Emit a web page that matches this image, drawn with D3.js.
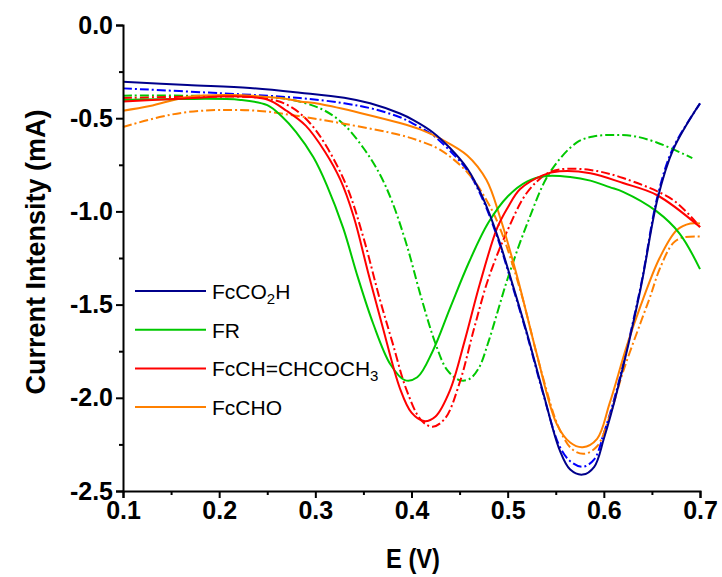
<!DOCTYPE html>
<html>
<head>
<meta charset="utf-8">
<script src="https://cdn.jsdelivr.net/npm/d3@7"></script>
<style>
  body { margin: 0; background: #fff; }
  svg text { font-family: "Liberation Sans", Arial, sans-serif; }
</style>
</head>
<body>
<svg width="722" height="577"></svg>
<script>
// values as [E (V), I (mA)]
const fcco2hSolid = [[0.100,-0.304],[0.167,-0.322],[0.232,-0.338],[0.284,-0.363],[0.330,-0.390],[0.357,-0.420],[0.388,-0.475],[0.402,-0.510],[0.422,-0.575],[0.440,-0.660],[0.458,-0.770],[0.474,-0.925],[0.490,-1.140],[0.505,-1.390],[0.520,-1.652],[0.537,-1.974],[0.554,-2.280],[0.565,-2.385],[0.578,-2.412],[0.590,-2.370],[0.600,-2.220],[0.614,-1.960],[0.638,-1.420],[0.656,-0.930],[0.672,-0.670],[0.700,-0.420]];
const fcco2hDash = [[0.100,-0.340],[0.201,-0.366],[0.284,-0.392],[0.330,-0.420],[0.360,-0.450],[0.388,-0.495],[0.402,-0.530],[0.422,-0.590],[0.440,-0.675],[0.458,-0.780],[0.474,-0.935],[0.490,-1.150],[0.505,-1.400],[0.520,-1.660],[0.537,-1.980],[0.554,-2.260],[0.565,-2.340],[0.578,-2.370],[0.590,-2.330],[0.600,-2.190],[0.614,-1.945],[0.638,-1.410],[0.656,-0.915],[0.672,-0.660],[0.700,-0.422]];
const frSolid = [[0.100,-0.402],[0.159,-0.397],[0.222,-0.402],[0.250,-0.430],[0.265,-0.490],[0.280,-0.575],[0.298,-0.710],[0.312,-0.860],[0.329,-1.090],[0.344,-1.350],[0.360,-1.600],[0.378,-1.820],[0.393,-1.905],[0.406,-1.890],[0.422,-1.750],[0.440,-1.520],[0.460,-1.270],[0.480,-1.060],[0.500,-0.920],[0.520,-0.840],[0.540,-0.810],[0.565,-0.815],[0.586,-0.835],[0.606,-0.870],[0.620,-0.895],[0.655,-1.000],[0.679,-1.120],[0.700,-1.310]];
const frDash = [[0.100,-0.379],[0.180,-0.380],[0.263,-0.392],[0.290,-0.420],[0.310,-0.460],[0.330,-0.535],[0.350,-0.660],[0.367,-0.800],[0.380,-0.950],[0.395,-1.180],[0.410,-1.460],[0.425,-1.710],[0.437,-1.850],[0.450,-1.905],[0.460,-1.900],[0.470,-1.840],[0.480,-1.700],[0.490,-1.530],[0.500,-1.360],[0.520,-1.070],[0.544,-0.790],[0.572,-0.630],[0.590,-0.597],[0.610,-0.590],[0.630,-0.595],[0.655,-0.630],[0.692,-0.714]];
const fcchSolid = [[0.100,-0.410],[0.160,-0.395],[0.220,-0.383],[0.250,-0.400],[0.270,-0.460],[0.290,-0.540],[0.310,-0.680],[0.326,-0.830],[0.340,-1.030],[0.355,-1.330],[0.370,-1.620],[0.388,-1.950],[0.400,-2.080],[0.413,-2.125],[0.425,-2.100],[0.440,-1.960],[0.455,-1.700],[0.471,-1.390],[0.489,-1.090],[0.500,-0.980],[0.513,-0.880],[0.537,-0.805],[0.554,-0.785],[0.586,-0.795],[0.620,-0.848],[0.655,-0.912],[0.700,-1.084]];
const fcchDash = [[0.100,-0.392],[0.180,-0.385],[0.250,-0.395],[0.275,-0.440],[0.295,-0.530],[0.312,-0.655],[0.333,-0.870],[0.350,-1.140],[0.367,-1.470],[0.380,-1.700],[0.395,-1.960],[0.410,-2.120],[0.422,-2.155],[0.435,-2.110],[0.450,-1.920],[0.465,-1.630],[0.480,-1.360],[0.500,-1.100],[0.520,-0.900],[0.540,-0.800],[0.554,-0.775],[0.586,-0.778],[0.620,-0.821],[0.672,-0.939],[0.700,-1.084]];
const fcchoSolid = [[0.100,-0.460],[0.128,-0.435],[0.167,-0.386],[0.211,-0.376],[0.263,-0.392],[0.284,-0.410],[0.305,-0.424],[0.388,-0.526],[0.409,-0.560],[0.430,-0.610],[0.458,-0.700],[0.478,-0.832],[0.492,-1.030],[0.510,-1.352],[0.530,-1.760],[0.551,-2.140],[0.565,-2.240],[0.578,-2.265],[0.593,-2.220],[0.606,-2.030],[0.624,-1.720],[0.638,-1.510],[0.658,-1.250],[0.676,-1.100],[0.690,-1.065],[0.700,-1.065]];
const fcchoDash = [[0.100,-0.547],[0.138,-0.494],[0.167,-0.467],[0.201,-0.456],[0.242,-0.461],[0.284,-0.490],[0.330,-0.530],[0.388,-0.590],[0.410,-0.625],[0.430,-0.670],[0.458,-0.790],[0.478,-0.940],[0.492,-1.090],[0.513,-1.420],[0.534,-1.840],[0.554,-2.170],[0.568,-2.280],[0.580,-2.300],[0.593,-2.260],[0.606,-2.100],[0.620,-1.860],[0.638,-1.600],[0.648,-1.460],[0.658,-1.310],[0.672,-1.170],[0.682,-1.140],[0.700,-1.135]];

const seriesNames = ["FcCO2H", "FR", "FcCH=CHCOCH3", "FcCHO"];
const xTicks = [0.1, 0.2, 0.3, 0.4, 0.5, 0.6, 0.7];
const xMinor = [0.15, 0.25, 0.35, 0.45, 0.55, 0.65];
const yTicks = [0.0, -0.5, -1.0, -1.5, -2.0, -2.5];
const yMinor = [-0.25, -0.75, -1.25, -1.75, -2.25];

const svg = d3.select("svg");

const x = d3.scaleLinear().domain([0.1, 0.7]).range([123, 700]);
const y = d3.scaleLinear().domain([-2.5, 0]).range([491, 25]);

const curves = [
  { data: fcco2hDash, color: "#0000ff", dash: "9,3,2,3" },
  { data: frDash, color: "#00c800", dash: "9,3,2,3" },
  { data: fcchDash, color: "#ff0000", dash: "9,3,2,3" },
  { data: fcchoDash, color: "#ff8000", dash: "9,3,2,3" },
  { data: fcchoSolid, color: "#ff8000", dash: null },
  { data: frSolid, color: "#00c800", dash: null },
  { data: fcchSolid, color: "#ff0000", dash: null },
  { data: fcco2hSolid, color: "#00008b", dash: null }
];

const line = d3.line()
  .x(d => x(d[0]))
  .y(d => y(d[1]))
  .curve(d3.curveCatmullRom.alpha(0.5));

svg.append("g").selectAll("path")
  .data(curves)
  .enter().append("path")
  .attr("d", d => line(d.data))
  .attr("fill", "none")
  .attr("stroke", d => d.color)
  .attr("stroke-width", 2)
  .attr("stroke-dasharray", d => d.dash);

// axes
svg.append("g")
  .attr("transform", "translate(0,491)")
  .call(d3.axisBottom(x).tickValues(xTicks).tickSize(7).tickPadding(3)
    .tickFormat(d => d.toFixed(1)));
svg.append("g")
  .attr("transform", "translate(0,491)")
  .call(d3.axisBottom(x).tickValues(xMinor).tickSize(4).tickFormat(""))
  .select(".domain").remove();

svg.append("g")
  .attr("transform", "translate(123,0)")
  .call(d3.axisLeft(y).tickValues(yTicks).tickSize(7).tickPadding(3)
    .tickFormat(d => d.toFixed(1)));
svg.append("g")
  .attr("transform", "translate(123,0)")
  .call(d3.axisLeft(y).tickValues(yMinor).tickSize(4).tickFormat(""))
  .select(".domain").remove();

svg.selectAll(".domain").attr("stroke", "#000").attr("stroke-width", 2);
svg.selectAll(".tick line").attr("stroke", "#000").attr("stroke-width", 2);
svg.selectAll(".tick text")
  .attr("font-family", "Liberation Sans, Arial, sans-serif")
  .attr("font-size", 25)
  .attr("font-weight", "bold")
  .attr("fill", "#000");

// axis titles
svg.append("text")
  .attr("x", 413).attr("y", 568)
  .attr("text-anchor", "middle")
  .attr("font-size", 27).attr("font-weight", "bold")
  .attr("textLength", 54).attr("lengthAdjust", "spacingAndGlyphs")
  .text("E (V)");

svg.append("text")
  .attr("transform", "translate(45,252) rotate(-90)")
  .attr("text-anchor", "middle")
  .attr("font-size", 27).attr("font-weight", "bold")
  .text("Current Intensity (mA)");

// legend
const legendColors = ["#00008b", "#00c800", "#ff0000", "#ff8000"];
const legend = svg.append("g");
seriesNames.forEach((name, i) => {
  const ly = 291 + i * 38.7;
  legend.append("line")
    .attr("x1", 135).attr("x2", 206)
    .attr("y1", ly).attr("y2", ly)
    .attr("stroke", legendColors[i]).attr("stroke-width", 2);
  const t = legend.append("text")
    .attr("x", 212).attr("y", ly + 8)
    .attr("font-size", 21);
  const m = name.match(/^(.*?)(\d)(.*)$/);
  if (m) {
    t.append("tspan").text(m[1]);
    t.append("tspan").attr("dy", 5).attr("font-size", 15).text(m[2]);
    if (m[3]) t.append("tspan").attr("dy", -5).text(m[3]);
  } else {
    t.text(name);
  }
});
</script>
</body>
</html>
